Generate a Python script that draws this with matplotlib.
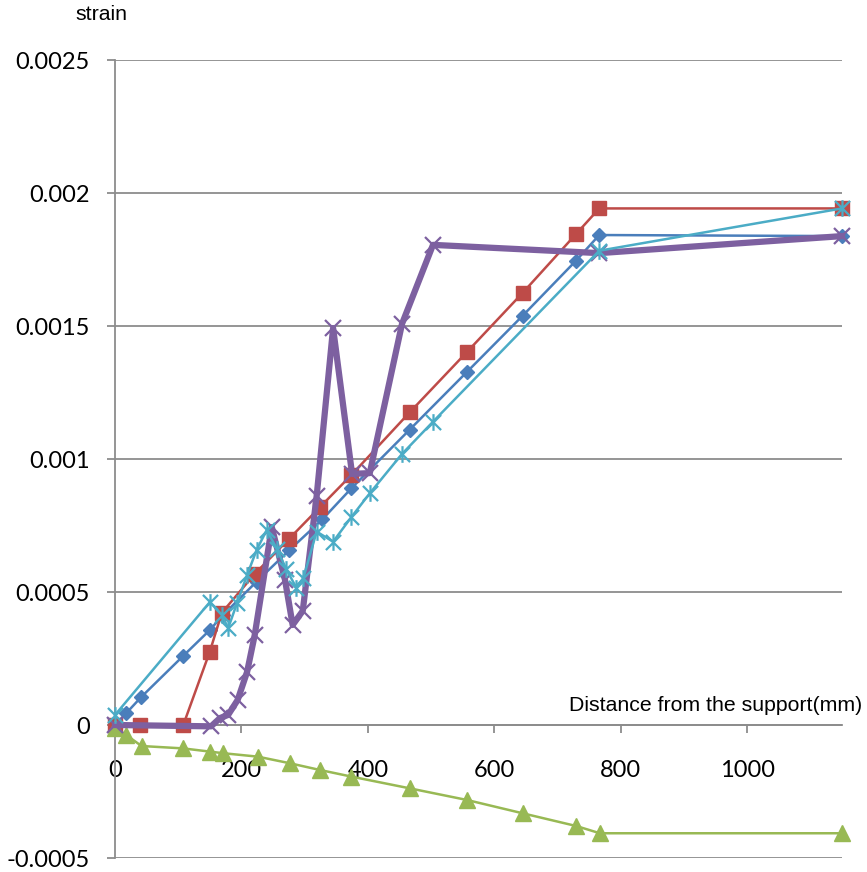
import matplotlib
matplotlib.use("Agg")
import matplotlib.pyplot as plt
from matplotlib.path import Path

# ---- data ----
blue_x = [0, 18, 41, 108, 150, 171, 224, 276, 328, 374, 466, 557, 645, 729, 766, 1150]
blue_y = [0, 0.000045, 0.000104, 0.00026, 0.000357, 0.000414, 0.000539, 0.000658, 0.000773,
          0.00089, 0.00111, 0.001328, 0.001539, 0.001745, 0.001842, 0.001838]

red_x = [0, 40, 108, 150, 169, 221, 275, 325, 374, 466, 557, 645, 729, 766, 1150]
red_y = [0, 0, 0, 0.000276, 0.000422, 0.000568, 0.000699, 0.000821, 0.00094, 0.001175,
         0.001403, 0.001625, 0.001845, 0.001942, 0.001942]

green_x = [0, 18, 42, 108, 150, 171, 226, 277, 324, 374, 466, 557, 645, 730, 767, 1150]
green_y = [-0.00001, -0.000038, -0.000079, -0.000088, -0.0001, -0.000106, -0.000119, -0.000144,
           -0.000169, -0.000194, -0.000238, -0.000282, -0.000332, -0.00038, -0.000407, -0.000407]

purple_x = [0, 152, 166, 179, 194, 209, 221, 248, 269, 281, 297, 319, 345, 375, 403, 454, 503, 766, 1150]
purple_y = [0, -0.000005, 0.000026, 0.000038, 0.000094, 0.0002, 0.000338, 0.000744, 0.000545,
            0.000376, 0.000429, 0.000861, 0.001492, 0.000944, 0.000947, 0.001508, 0.001805,
            0.001774, 0.001838]

cyan_x = [0, 150, 169, 179, 193, 209, 224, 240, 256, 271, 287, 298, 319, 345, 374, 403, 454, 503, 766, 1150]
cyan_y = [0.0000376, 0.000462, 0.000414, 0.000364, 0.000458, 0.000564, 0.000658, 0.000733, 0.000662,
          0.000586, 0.000515, 0.000553, 0.000727, 0.000689, 0.000782, 0.000871, 0.001019, 0.00114,
          0.001783, 0.001942]

x_ticks = [0, 200, 400, 600, 800, 1000]
x_ticklabels = ["0", "200", "400", "600", "800", "1000"]
y_ticks = [-0.0005, 0, 0.0005, 0.001, 0.0015, 0.002, 0.0025]
y_ticklabels = ["-0.0005", "0", "0.0005", "0.001", "0.0015", "0.002", "0.0025"]

# ---- figure ----
W, H = 867, 872
fig = plt.figure(figsize=(W / 100, H / 100), dpi=100)
ax = fig.add_axes([115 / W, 1 - 858 / H, (842 - 115) / W, (858 - 60) / H])
ax.set_xlim(0, 1150)
ax.set_ylim(-0.0005, 0.0025)

grid_c = "#8c8c8c"
ax.set_yticks(y_ticks)
ax.set_yticklabels(y_ticklabels)
ax.set_xticks(x_ticks)
ax.set_xticklabels(x_ticklabels)
ax.yaxis.grid(True, color=grid_c, lw=1.3, zorder=0)
ax.set_axisbelow(True)

for s in ["top", "right"]:
    ax.spines[s].set_visible(False)
ax.spines["left"].set_color(grid_c)
ax.spines["left"].set_linewidth(1.3)
ax.spines["bottom"].set_position(("data", 0))
ax.spines["bottom"].set_color(grid_c)
ax.spines["bottom"].set_linewidth(1.3)

ax.tick_params(axis="y", direction="out", length=6, width=1.3, color=grid_c, pad=12,
               labelsize=17)
ax.tick_params(axis="x", direction="out", length=6, width=1.3, color=grid_c, pad=19,
               labelsize=17)
for lab in ax.get_xticklabels() + ax.get_yticklabels():
    lab.set_family("Lato")

c_blue = "#4A7EBB"
c_red = "#BE4B48"
c_green = "#98B954"
c_purple = "#7D60A0"
c_cyan = "#4BACC6"

star = Path([(-0.5, -0.5), (0.5, 0.5), (-0.5, 0.5), (0.5, -0.5), (0, -0.55), (0, 0.55)],
            [Path.MOVETO, Path.LINETO, Path.MOVETO, Path.LINETO, Path.MOVETO, Path.LINETO])

ax.plot(blue_x, blue_y, color=c_blue, lw=1.8, marker="D", ms=6.8, mfc=c_blue, mec=c_blue,
        zorder=3, clip_on=False)
ax.plot(red_x, red_y, color=c_red, lw=1.8, marker="s", ms=10, mfc=c_red, mec=c_red,
        zorder=4, clip_on=False)
ax.plot(green_x, green_y, color=c_green, lw=1.8, marker="^", ms=11, mfc=c_green, mec=c_green,
        zorder=5, clip_on=False)
ax.plot(purple_x, purple_y, color=c_purple, lw=4.5, marker="x", ms=12, mew=1.6,
        mec=c_purple, zorder=6, clip_on=False)
ax.plot(cyan_x, cyan_y, color=c_cyan, lw=1.8, marker=star, ms=12, mew=1.6,
        mec=c_cyan, mfc="none", zorder=7, clip_on=False)

fig.text(101 / W, 1 - 15 / H, "strain", ha="center", va="center",
         family="Liberation Sans", size=15.3)
fig.text(862 / W, 1 - 705 / H, "Distance from the support(mm)", ha="right", va="center",
         family="Liberation Sans", size=15.3)

fig.savefig("out.png", dpi=100)
